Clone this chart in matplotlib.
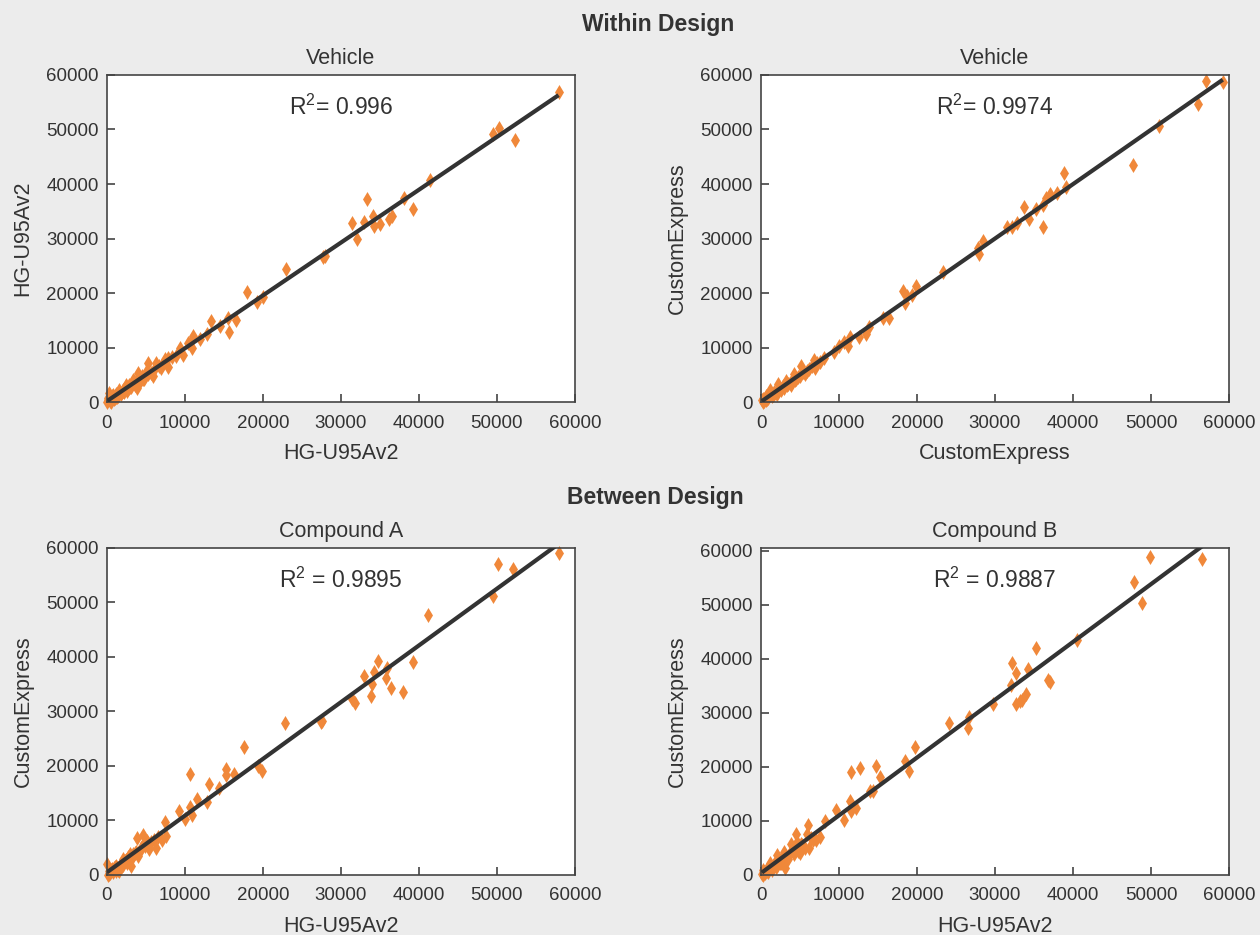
import matplotlib

matplotlib.use("Agg")
import matplotlib.pyplot as plt
import numpy as np

# ---- data (expression signal, arbitrary units) ----
veh1_x = [57900, 49500, 50200, 52300, 41400, 38100, 39300, 33300, 31400, 32000,
          33000, 34100, 34200, 35000, 36100, 36500, 27900, 27700, 23000, 17900,
          19200, 19960, 13400, 15500, 15700, 16500, 14500, 12800, 11900, 11000,
          10800, 10900, 10400, 9400, 9700, 7800, 7800, 7400, 6300, 5300,
          5900, 5000, 4000, 3800, 3300, 2500, 1600, 800, 100, 300,
          200, 400, 600, 900, 1100, 1300, 1500, 1800, 2000, 2200,
          2800, 3000, 3600, 4200, 4500, 4800, 500, 700, 1000, 2400, 3100, 150, 50,
          5600, 6100, 6700, 7100, 4300, 3500, 2700, 1200, 1900, 2600, 3900, 4600,
          5200, 350, 850, 1400, 2100, 3200, 4100, 6900, 8300, 8900]
veh1_y = [56900, 49100, 50200, 48000, 40800, 37500, 35500, 37200, 32900, 29900,
          33000, 34200, 32300, 32600, 33600, 34200, 26800, 26600, 24400, 20100,
          18400, 19300, 14800, 15500, 12800, 15000, 14000, 12400, 11600, 12100,
          11200, 9900, 10900, 10000, 8700, 8000, 6400, 7900, 7200, 7100,
          4800, 5600, 5300, 2600, 4100, 3200, 2300, 1300, 700, 1700,
          600, 200, 900, 700, 1400, 1000, 1700, 1500, 2300, 1900,
          3100, 2700, 3200, 3800, 4700, 4300, 100, 1100, 800, 2700, 2800, 400, 0,
          5300, 6200, 6600, 6800, 4000, 3900, 2400, 900, 1800, 2100, 3600, 4200,
          5100, 300, 600, 1200, 2000, 3500, 4500, 6300, 8200, 8400]

veh2_x = [59200, 57100, 56000, 51000, 47700, 38900, 39100, 37900, 37100, 36500,
          36100, 36100, 35200, 33700, 34400, 32800, 32200, 31500, 28500, 27800,
          28000, 23300, 19900, 18200, 18700, 18400, 19400, 16400, 15700, 13800,
          13400, 12500, 11400, 11100, 10600, 10000, 9400, 8100, 6800, 6900,
          5100, 5900, 4200, 3800, 3200, 2200, 2100, 1200, 600, 200,
          300, 500, 800, 1000, 1400, 1600, 1900, 2500, 2800, 3000,
          3500, 4000, 4500, 4800, 5400, 6200, 7200, 100, 700, 1500,
          2300, 2600, 3300, 3700, 4300, 5600, 6500, 7600, 900, 1700, 400, 5000]
veh2_y = [58700, 58900, 54600, 50600, 43500, 42100, 39400, 38300, 38100, 37500,
          36100, 32200, 35400, 35700, 33600, 32800, 32200, 32100, 29500, 28300,
          27100, 23800, 21200, 20300, 19500, 18100, 19700, 15500, 15400, 13700,
          12400, 12000, 12000, 10200, 11000, 10300, 9200, 8100, 7700, 6300,
          6600, 5700, 5100, 3100, 3900, 3400, 1400, 2300, 1100, 500,
          100, 700, 600, 1200, 1100, 1900, 1600, 2200, 2900, 2600,
          3300, 3800, 4300, 4600, 5500, 6000, 7100, 300, 400, 1300,
          2400, 2400, 3100, 3500, 4000, 5200, 6700, 7400, 700, 1500, 200, 4700]

cpa_x = [57900, 50100, 52100, 49500, 41200, 39200, 37900, 36400, 35800, 35900,
         34800, 34200, 34000, 33900, 33000, 31800, 31400, 27600, 27500, 22800,
         17600, 19300, 19900, 15300, 15300, 16300, 10700, 13100, 14300, 11600,
         12800, 10700, 10900, 9200, 10000, 7500, 7600, 7000, 6300, 5400,
         4600, 3800, 5100, 4200, 3100, 2900, 2000, 1200, 0, 300,
         1600, 200, 500, 800, 1000, 1400, 1800, 2300, 2600, 3400,
         3700, 4400, 4900, 5700, 6600, 100, 700, 2100, 2700,
         3200, 3600, 4000, 4800, 5300, 6000, 1100, 1500, 2500, 400, 900]
cpa_y = [59000, 57000, 56100, 51100, 47700, 39000, 33500, 34300, 36200, 38000,
         39300, 37300, 35100, 32800, 36500, 31500, 32300, 28200, 28100, 27800,
         23400, 19900, 19000, 19500, 18400, 18600, 18500, 16600, 15900, 14000,
         13300, 12500, 11000, 11700, 10200, 9700, 7200, 6400, 5000, 4700,
         7400, 6800, 6200, 4400, 1600, 3800, 2900, 1600, 2100, 700,
         700, 200, 900, 500, 1400, 900, 2000, 2600, 2200, 3900,
         4300, 4900, 5400, 6100, 6900, 0, 1100, 1800, 3300,
         3100, 4100, 3500, 5900, 5800, 6500, 800, 1400, 2700, 300, 1200]

cpb_x = [56600, 49900, 47800, 48800, 40500, 35300, 36800, 37000, 34200, 32200,
         32700, 32000, 34000, 33500, 33200, 32700, 29700, 26600, 26500, 24100,
         19700, 19000, 18400, 14800, 15300, 12700, 11500, 14000, 14400, 11400,
         12200, 11500, 10600, 9600, 8200, 7600, 6000, 5900, 6200, 4500,
         4600, 3800, 5000, 3100, 2900, 2100, 1200, 300, 100, 500,
         700, 900, 1100, 1400, 1700, 2000, 2400, 2700, 3400, 3700,
         4200, 5300, 5600, 6600, 7100, 200, 1500, 2300,
         2600, 3000, 3300, 4000, 4800, 5100, 6400, 400, 800, 1900]
cpb_y = [58500, 58800, 54200, 50400, 43500, 41900, 36000, 35700, 38100, 39200,
         37300, 35200, 33500, 32400, 32100, 31600, 31600, 29300, 27100, 28200,
         23600, 19300, 21000, 20100, 18200, 19800, 19000, 15600, 15600, 13700,
         12300, 11800, 10200, 12100, 10000, 7100, 9300, 7500, 4900, 7500,
         6100, 5800, 4000, 1200, 4300, 3700, 2300, 900, 100, 300,
         900, 600, 1300, 1000, 2100, 1700, 2200, 3200, 3000, 4100,
         3800, 5500, 5000, 6500, 6400, 0, 1600, 2600,
         2300, 3300, 2900, 4700, 4400, 5700, 6900, 500, 700, 1500]

panels = [
    ("Vehicle", "HG-U95Av2", "HG-U95Av2", veh1_x, veh1_y, "= 0.996", 60000),
    ("Vehicle", "CustomExpress", "CustomExpress", veh2_x, veh2_y, "= 0.9974", 60000),
    ("Compound A", "HG-U95Av2", "CustomExpress", cpa_x, cpa_y, " = 0.9895", 60000),
    ("Compound B", "HG-U95Av2", "CustomExpress", cpb_x, cpb_y, " = 0.9887", 60500),
]

BG = "#ececec"
TXT = "#333333"
ORANGE = "#f0883a"

plt.rcParams["font.family"] = ["Liberation Sans", "DejaVu Sans"]
plt.rcParams["mathtext.fontset"] = "custom"
plt.rcParams["mathtext.rm"] = "Liberation Sans"
plt.rcParams["text.color"] = TXT
plt.rcParams["axes.labelcolor"] = TXT
plt.rcParams["xtick.color"] = "#444444"
plt.rcParams["ytick.color"] = "#444444"
plt.rcParams["xtick.labelcolor"] = TXT
plt.rcParams["ytick.labelcolor"] = TXT

fig = plt.figure(figsize=(12.6, 9.35), dpi=100, facecolor=BG)

# axes rectangles in figure fraction
lefts = [0.0849, 0.604]
bottoms = [0.570, 0.0642]
w, h = 0.3714, 0.3498

for i, (title, xl, yl, xs, ys, r2, ytop) in enumerate(panels):
    ax = fig.add_axes([lefts[i % 2], bottoms[i // 2], w, h])
    xs = np.asarray(xs, dtype=float)
    ys = np.asarray(ys, dtype=float)
    ax.scatter(xs, ys, marker="d", s=58, color=ORANGE, linewidths=0,
               zorder=2, clip_on=False)
    slope, icpt = np.polyfit(xs, ys, 1)
    xx = np.array([xs.min(), xs.max()])
    ax.plot(xx, slope * xx + icpt, color="#333333", lw=3.0, zorder=3,
            solid_capstyle="butt")
    ax.set_xlim(0, 60000)
    ax.set_ylim(0, ytop)
    ax.set_xticks(np.arange(0, 60001, 10000))
    ax.set_yticks(np.arange(0, 60001, 10000))
    ax.tick_params(axis="x", direction="in", length=6, width=1.2,
                   labelsize=13.5, pad=9)
    ax.tick_params(axis="y", direction="in", length=6, width=1.2,
                   labelsize=13.5, pad=6)
    for sp in ax.spines.values():
        sp.set_color("#444444")
        sp.set_linewidth(1.2)
    ax.set_title(title, fontsize=15.5, color=TXT, pad=8)
    ax.set_xlabel(xl, fontsize=15.5, labelpad=8)
    ax.set_ylabel(yl, fontsize=15.5, labelpad=9)
    ax.text(0.5, 0.90, "R" + r"$^{\mathrm{2}}$" + r2,
            transform=ax.transAxes, ha="center", va="center", fontsize=16.5,
            color=TXT)

fig.text(0.522, 0.974, "Within Design", ha="center", va="center",
         fontsize=16.5, fontweight="bold")
fig.text(0.52, 0.468, "Between Design", ha="center", va="center",
         fontsize=16.5, fontweight="bold")

fig.savefig("out.png", dpi=100, facecolor=BG)
